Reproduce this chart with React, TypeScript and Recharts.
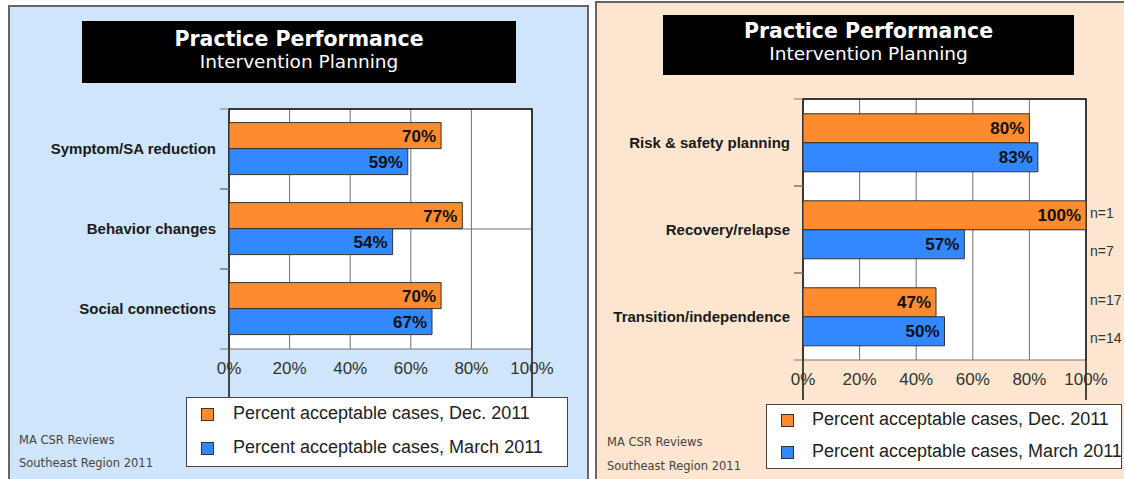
import { Bar, BarChart, CartesianGrid, LabelList, ReferenceArea, XAxis, YAxis } from 'recharts'

const leftCategories = ['Symptom/SA reduction', 'Behavior changes', 'Social connections']
const leftDec = [70, 77, 70]
const leftMarch = [59, 54, 67]

const rightCategories = ['Risk & safety planning', 'Recovery/relapse', 'Transition/independence']
const rightDec = [80, 100, 47]
const rightMarch = [83, 57, 50]
const rightDecN = [null, 1, 17]
const rightMarchN = [null, 7, 14]

const xTicks = [0, 20, 40, 60, 80, 100]
const seriesNames = ['Percent acceptable cases, Dec. 2011', 'Percent acceptable cases, March 2011']
const footer = ['MA CSR Reviews', 'Southeast Region 2011']
const title = 'Practice Performance'
const subtitle = 'Intervention Planning'

const ORANGE = '#ff8b2f'
const BLUE = '#3388ff'
const SANS = '"Liberation Sans", Arial, sans-serif'
const WIDE = '"DejaVu Sans", Verdana, sans-serif'

function buildRows(
  cats: string[],
  dec: number[],
  march: number[],
  decN: (number | null)[] = [],
  marchN: (number | null)[] = []
) {
  return cats.map((name, i) => ({
    name,
    dec: dec[i],
    march: march[i],
    decN: decN[i] ?? null,
    marchN: marchN[i] ?? null,
  }))
}

const leftRows = buildRows(leftCategories, leftDec, leftMarch)
const rightRows = buildRows(rightCategories, rightDec, rightMarch, rightDecN, rightMarchN)

const TICK_GAP = 13

function CategoryTick(props: any) {
  const { x, y, payload } = props
  const half = payload?.offset ?? 0
  const axisX = x + TICK_GAP
  return (
    <g>
      <line x1={axisX - 9} x2={axisX} y1={y - half} y2={y - half} stroke="#777" />
      <line x1={axisX - 9} x2={axisX} y1={y + half} y2={y + half} stroke="#777" />
      <text
        x={x}
        y={y}
        dy="0.35em"
        textAnchor="end"
        fontFamily={SANS}
        fontWeight="bold"
        fontSize={15}
        fill="#1a1a1a"
      >
        {payload.value}
      </text>
    </g>
  )
}

function makeNLabel(rows: any[], key: 'dec' | 'march', shift: number) {
  return function NLabel(props: any) {
    const { value, index } = props
    if (value == null) return null
    const vb = props.viewBox ?? props
    const barValue = rows[index]?.[key]
    if (!barValue) return null
    const right = vb.x + (vb.width * 100) / barValue
    return (
      <text
        x={right + 4}
        y={vb.y + vb.height / 2 + shift}
        dy="0.35em"
        fontFamily={SANS}
        fontSize={14}
        fill="#333"
      >
        {`n=${value}`}
      </text>
    )
  }
}

interface PanelChartProps {
  rows: any[]
  width: number
  height: number
  margin: { top: number; right: number; bottom: number; left: number }
  axisWidth: number
  showN?: boolean
}

function PanelChart({ rows, width, height, margin, axisWidth, showN }: PanelChartProps) {
  return (
    <BarChart
      width={width}
      height={height}
      data={rows}
      layout="vertical"
      margin={margin}
      barCategoryGap="17%"
      barGap={0}
    >
      <CartesianGrid yAxisId="n" stroke="#707070" fill="#ffffff" strokeDasharray="" />
      <XAxis
        type="number"
        domain={[0, 100]}
        ticks={xTicks}
        tickFormatter={(v) => `${v}%`}
        axisLine={false}
        tickLine={false}
        tickSize={0}
        tickMargin={13}
        height={30}
        interval={0}
        tick={{ fontFamily: SANS, fontSize: 17, fill: '#333' }}
      />
      <YAxis
        type="category"
        dataKey="name"
        width={axisWidth}
        axisLine={false}
        tickLine={false}
        tickSize={0}
        tickMargin={TICK_GAP}
        interval={0}
        tick={<CategoryTick />}
      />
      <YAxis yAxisId="n" type="number" domain={[0, 3]} ticks={[0, 1, 2, 3]} hide />
      <Bar dataKey="dec" fill={ORANGE} stroke="#333" strokeWidth={1} isAnimationActive={false}>
        <LabelList
          dataKey="dec"
          position="insideRight"
          formatter={(v: any) => `${v}%`}
          style={{ fontFamily: SANS, fontWeight: 'bold', fontSize: 17, fill: '#111' }}
        />
        {showN && <LabelList dataKey="decN" content={makeNLabel(rows, 'dec', -2)} />}
      </Bar>
      <Bar dataKey="march" fill={BLUE} stroke="#333" strokeWidth={1} isAnimationActive={false}>
        <LabelList
          dataKey="march"
          position="insideRight"
          formatter={(v: any) => `${v}%`}
          style={{ fontFamily: SANS, fontWeight: 'bold', fontSize: 17, fill: '#111' }}
        />
        {showN && <LabelList dataKey="marchN" content={makeNLabel(rows, 'march', 7)} />}
      </Bar>
      <ReferenceArea
        yAxisId="n"
        x1={0}
        x2={100}
        y1={0}
        y2={3}
        fill="none"
        stroke="#111"
        strokeWidth={1.5}
        ifOverflow="visible"
      />
    </BarChart>
  )
}

function TitleBox({ left, top, width, height }: { left: number; top: number; width: number; height: number }) {
  return (
    <div
      style={{
        position: 'absolute',
        left,
        top,
        width,
        height,
        background: '#000',
        color: '#fff',
        textAlign: 'center',
        fontFamily: WIDE,
        boxSizing: 'border-box',
        paddingTop: height > 61 ? 6 : 4,
      }}
    >
      <div style={{ fontSize: 20.5, fontWeight: 'bold', lineHeight: '24px' }}>{title}</div>
      <div style={{ fontSize: 18.5, lineHeight: '22px' }}>{subtitle}</div>
    </div>
  )
}

function LegendBox({
  left,
  top,
  width,
  height,
  textLeft,
  swatchLeft,
  rowYs,
}: {
  left: number
  top: number
  width: number
  height: number
  textLeft: number
  swatchLeft: number
  rowYs: number[]
}) {
  const colors = [ORANGE, BLUE]
  return (
    <div
      style={{
        position: 'absolute',
        left,
        top,
        width,
        height,
        background: '#fff',
        border: '1.5px solid #444',
        boxSizing: 'border-box',
      }}
    >
      {seriesNames.map((name, i) => (
        <div key={name}>
          <div
            style={{
              position: 'absolute',
              left: swatchLeft,
              top: rowYs[i] - 7 + 2,
              width: 13,
              height: 13,
              background: colors[i],
              border: '1px solid #333',
              boxSizing: 'border-box',
            }}
          />
          <div
            style={{
              position: 'absolute',
              left: textLeft,
              top: rowYs[i] - 11,
              fontFamily: SANS,
              fontSize: 18,
              lineHeight: '22px',
              color: '#222',
              whiteSpace: 'nowrap',
            }}
          >
            {name}
          </div>
        </div>
      ))}
    </div>
  )
}

function Footer({ left, tops }: { left: number; tops: number[] }) {
  return (
    <>
      {footer.map((t, i) => (
        <div
          key={t}
          style={{
            position: 'absolute',
            left,
            top: tops[i] - 8,
            fontFamily: WIDE,
            fontSize: 11.5,
            lineHeight: '16px',
            color: '#444',
            whiteSpace: 'nowrap',
          }}
        >
          {t}
        </div>
      ))}
    </>
  )
}

export default function App() {
  return (
    <div
      style={{
        position: 'absolute',
        left: 0,
        top: 0,
        width: 1124,
        height: 479,
        overflow: 'hidden',
        background: '#fff',
      }}
    >
      <div
        style={{
          position: 'absolute',
          left: 8,
          top: 5,
          width: 581,
          height: 480,
          background: '#cfe5fc',
          border: '2px solid #666',
          boxSizing: 'border-box',
        }}
      />
      <div
        style={{
          position: 'absolute',
          left: 595,
          top: 1,
          width: 535,
          height: 480,
          background: '#fde6cf',
          border: '2px solid #666',
          boxSizing: 'border-box',
        }}
      />

      <TitleBox left={82} top={21} width={434} height={62} />
      <TitleBox left={663} top={15} width={411} height={60} />

      <div style={{ position: 'absolute', left: 0, top: 0 }}>
        <PanelChart
          rows={leftRows}
          width={588}
          height={400}
          margin={{ top: 109, right: 56, bottom: 21, left: 0 }}
          axisWidth={229}
        />
      </div>
      <div style={{ position: 'absolute', left: 595, top: 0 }}>
        <PanelChart
          rows={rightRows}
          width={529}
          height={400}
          margin={{ top: 99, right: 38, bottom: 10, left: 0 }}
          axisWidth={208}
          showN
        />
      </div>

      <LegendBox left={186} top={397} width={382} height={70} swatchLeft={14} textLeft={46} rowYs={[15, 49]} />
      <LegendBox left={766} top={404} width={356} height={65} swatchLeft={14} textLeft={45} rowYs={[14, 46]} />

      <Footer left={19} tops={[440, 463]} />
      <Footer left={607} tops={[442, 466]} />
    </div>
  )
}
